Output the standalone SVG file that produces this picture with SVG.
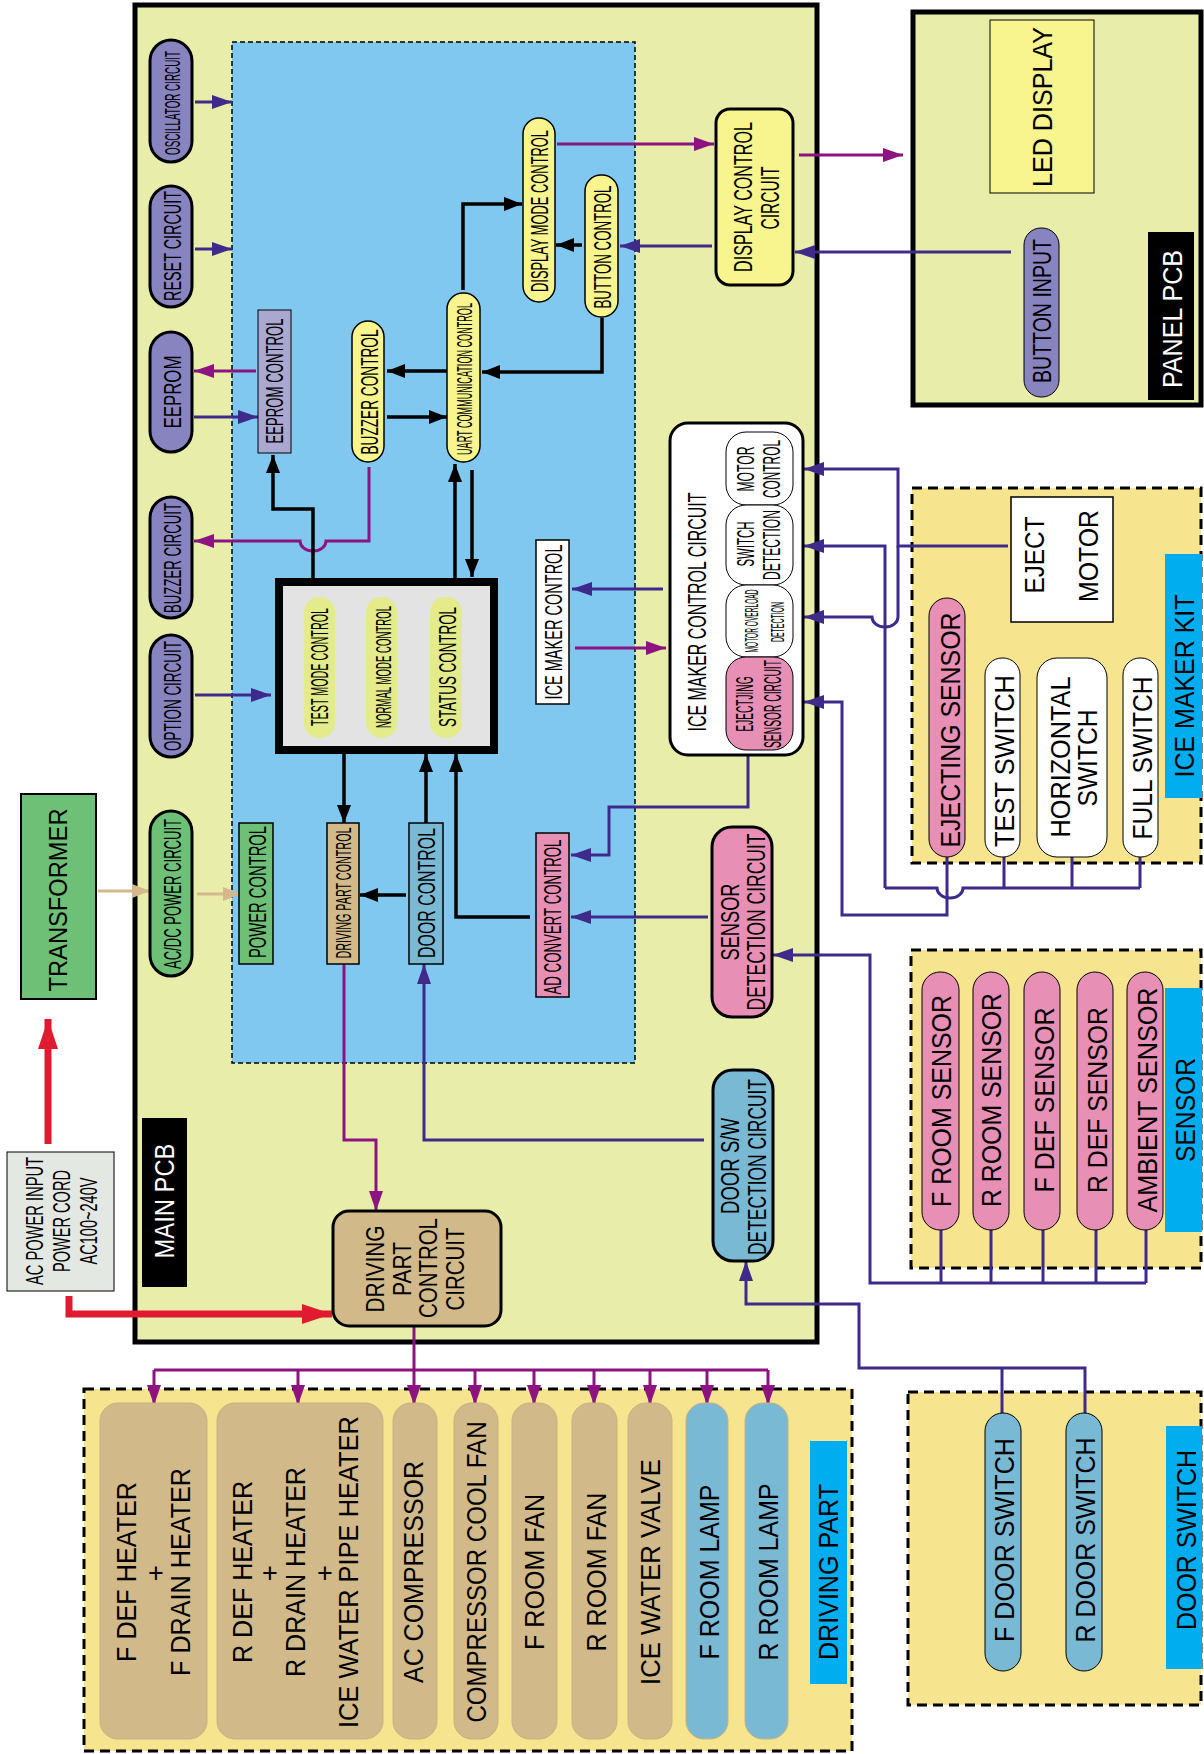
<svg xmlns="http://www.w3.org/2000/svg" width="1204" height="1754" viewBox="0 0 1204 1754">
<style>
text{font-family:"Liberation Sans",Arial,sans-serif;text-anchor:middle;fill:#000}
.w{fill:#fff}
.lb{fill:none;stroke:#3f2a8c;stroke-width:3}
.lm{fill:none;stroke:#8c1380;stroke-width:3}
.lk{fill:none;stroke:#000;stroke-width:3.5}
.lt{fill:none;stroke:#d4b98c;stroke-width:3}
.lr{fill:none;stroke:#e11b2f;stroke-width:7}
.pl{fill:#8884bf;stroke:#000;stroke-width:3}
.yp{fill:#f8f48e;stroke:#000;stroke-width:1.5}
.dash{fill:#f6e48f;stroke:#000;stroke-width:3;stroke-dasharray:10 6}
.cy{fill:#00aeef}
.pk{fill:#e78fb5;stroke:#000;stroke-width:1}
.bl{fill:#7ab9d4;stroke:#000;stroke-width:1}
.wh{fill:#fff;stroke:#000;stroke-width:1}
.dr{fill:#d1b98a;stroke:#c9b07f;stroke-width:1}
.dl{fill:#7ab9d4;stroke:#c9b07f;stroke-width:1}
</style>
<defs>
<marker id="ab" markerUnits="userSpaceOnUse" markerWidth="20" markerHeight="14" refX="20" refY="7" orient="auto"><path d="M0,0 L20,7 L0,14 z" fill="#3f2a8c"/></marker>
<marker id="am" markerUnits="userSpaceOnUse" markerWidth="20" markerHeight="14" refX="20" refY="7" orient="auto"><path d="M0,0 L20,7 L0,14 z" fill="#8c1380"/></marker>
<marker id="ak" markerUnits="userSpaceOnUse" markerWidth="18" markerHeight="14" refX="18" refY="7" orient="auto"><path d="M0,0 L18,7 L0,14 z" fill="#000"/></marker>
<marker id="at" markerUnits="userSpaceOnUse" markerWidth="18" markerHeight="14" refX="18" refY="7" orient="auto"><path d="M0,0 L18,7 L0,14 z" fill="#d4b98c"/></marker>
<marker id="ar" markerUnits="userSpaceOnUse" markerWidth="30" markerHeight="20" refX="30" refY="10" orient="auto"><path d="M0,0 L30,10 L0,20 z" fill="#e11b2f"/></marker>
</defs>

<!-- containers -->
<g id="main-pcb">
<rect x="135" y="5" width="682" height="1337" fill="#e8eea9" stroke="#000" stroke-width="5"/>
<rect x="232" y="42" width="403" height="1021" fill="#80c8f0" stroke="#000" stroke-width="1.5" stroke-dasharray="5 3"/>
<rect x="142" y="1118" width="45" height="169" fill="#000"/>
<text class="w" transform="translate(164,1201) rotate(-90)" dy=".36em" font-size="27" textLength="115" lengthAdjust="spacingAndGlyphs">MAIN PCB</text>
</g>
<g id="panel-pcb">
<rect x="913" y="12" width="288" height="393" fill="#e8eea9" stroke="#000" stroke-width="5"/>
<rect x="1148" y="232" width="46" height="168" fill="#000"/>
<text class="w" transform="translate(1172,319) rotate(-90)" dy=".36em" font-size="27" textLength="138" lengthAdjust="spacingAndGlyphs">PANEL PCB</text>
</g>
<g id="ice-maker-kit">
<rect class="dash" x="912" y="488" width="289" height="375"/>
<rect class="cy" x="1165" y="554" width="37" height="244"/>
<text transform="translate(1184,686) rotate(-90)" dy=".36em" font-size="27" textLength="183" lengthAdjust="spacingAndGlyphs">ICE MAKER KIT</text>
</g>
<g id="sensor-group">
<rect class="dash" x="911" y="950" width="290" height="318"/>
<rect class="cy" x="1165" y="988" width="37" height="244"/>
<text transform="translate(1185,1110) rotate(-90)" dy=".36em" font-size="27" textLength="104" lengthAdjust="spacingAndGlyphs">SENSOR</text>
</g>
<g id="door-switch-group">
<rect class="dash" x="908" y="1392" width="293" height="313"/>
<rect class="cy" x="1166" y="1426" width="36" height="243"/>
<text transform="translate(1186,1540) rotate(-90)" dy=".36em" font-size="27" textLength="180" lengthAdjust="spacingAndGlyphs">DOOR SWITCH</text>
</g>
<g id="driving-part-group">
<rect class="dash" x="84" y="1389" width="768" height="362"/>
<rect class="cy" x="810" y="1441" width="37" height="243"/>
<text transform="translate(828,1572) rotate(-90)" dy=".36em" font-size="27" textLength="176" lengthAdjust="spacingAndGlyphs">DRIVING PART</text>
</g>

<!-- connectors -->
<g id="connectors">
<path class="lb" d="M195,102 H232" marker-end="url(#ab)"/>
<path class="lb" d="M195,249 H232" marker-end="url(#ab)"/>
<path class="lm" d="M256,371 H194" marker-end="url(#am)"/>
<path class="lb" d="M194,417 H258" marker-end="url(#ab)"/>
<path class="lb" d="M195,695 H271" marker-end="url(#ab)"/>
<path class="lm" d="M369,467 V541 H326 A13,10 0 0 1 300,541 H194" marker-end="url(#am)"/>
<path class="lk" d="M313,578 V509 H273 V455" marker-end="url(#ak)"/>
<path class="lk" d="M447,371 H387" marker-end="url(#ak)"/>
<path class="lk" d="M387,417 H447" marker-end="url(#ak)"/>
<path class="lk" d="M455,578 V464" marker-end="url(#ak)"/>
<path class="lk" d="M472,470 V577" marker-end="url(#ak)"/>
<path class="lk" d="M463,290 V204 H522" marker-end="url(#ak)"/>
<path class="lk" d="M602,318 V372 H482" marker-end="url(#ak)"/>
<path class="lk" d="M582,245 H556" marker-end="url(#ak)"/>
<path class="lm" d="M557,144 H714" marker-end="url(#am)"/>
<path class="lb" d="M712,246 H620" marker-end="url(#ab)"/>
<path class="lm" d="M799,155 H903" marker-end="url(#am)"/>
<path class="lb" d="M1011,252 H795" marker-end="url(#ab)"/>
<path class="lk" d="M344,754 V823" marker-end="url(#ak)"/>
<path class="lk" d="M426,823 V754" marker-end="url(#ak)"/>
<path class="lk" d="M530,917 H456 V754" marker-end="url(#ak)"/>
<path class="lk" d="M406,895 H360" marker-end="url(#ak)"/>
<path class="lt" d="M98,891 H150" marker-end="url(#at)"/>
<path class="lt" d="M197,894 H241" marker-end="url(#at)"/>
<path class="lr" d="M48,1144 V1019" marker-end="url(#ar)"/>
<path class="lr" d="M69,1296 V1314 H332" marker-end="url(#ar)"/>
<path class="lb" d="M663,589 H572" marker-end="url(#ab)"/>
<path class="lm" d="M575,648 H666" marker-end="url(#am)"/>
<path class="lb" d="M748,750 V807 H609 V855 H571" marker-end="url(#ab)"/>
<path class="lb" d="M708,917 H571" marker-end="url(#ab)"/>
<path class="lm" d="M344,964 V1140 H376 V1211" marker-end="url(#am)"/>
<path class="lb" d="M704,1140 H424 V964" marker-end="url(#ab)"/>
<path class="lb" d="M1008,546 H898 V469 H804" marker-end="url(#ab)"/>
<path class="lb" d="M898,546 V617 A13,10 0 0 1 872,617 H804" marker-end="url(#ab)"/>
<path class="lb" d="M885,888 V546 H804" marker-end="url(#ab)"/>
<path class="lb" d="M947,857 V915 H842 V702 H804" marker-end="url(#ab)"/>
<path class="lb" d="M885,888 H937 A13,10 0 0 0 963,888 H1140 M1004,857 V888 M1072,857 V888 M1140,857 V888"/>
<path class="lb" d="M941,1230 V1283 M991,1230 V1283 M1043,1230 V1283 M1096,1230 V1283 M1146,1230 V1283"/>
<path class="lb" d="M1146,1283 H870 V955 H773" marker-end="url(#ab)"/>
<path class="lb" d="M1085,1413 V1368 H859 V1304 H746 V1261" marker-end="url(#ab)"/>
<path class="lb" d="M1002,1368 V1413"/>
<path class="lm" d="M414,1326 V1405" marker-end="url(#am)"/>
<path class="lm" d="M154,1370 H768"/>
<path class="lm" d="M154,1370 V1405" marker-end="url(#am)"/>
<path class="lm" d="M298,1370 V1405" marker-end="url(#am)"/>
<path class="lm" d="M475,1370 V1405" marker-end="url(#am)"/>
<path class="lm" d="M534,1370 V1405" marker-end="url(#am)"/>
<path class="lm" d="M594,1370 V1405" marker-end="url(#am)"/>
<path class="lm" d="M650,1370 V1405" marker-end="url(#am)"/>
<path class="lm" d="M707,1370 V1405" marker-end="url(#am)"/>
<path class="lm" d="M768,1370 V1405" marker-end="url(#am)"/>
</g>

<!-- left column nodes -->
<g id="oscillator"><rect class="pl" x="150" y="40" width="42" height="122" rx="21"/>
<text transform="translate(172,103) rotate(-90)" dy=".36em" font-size="22" textLength="104" lengthAdjust="spacingAndGlyphs">OSCILLATOR CIRCUIT</text></g>
<g id="reset"><rect class="pl" x="150" y="186" width="42" height="121" rx="21"/>
<text transform="translate(172,246) rotate(-90)" dy=".36em" font-size="24" textLength="110" lengthAdjust="spacingAndGlyphs">RESET CIRCUIT</text></g>
<g id="eeprom"><rect class="pl" x="150" y="332" width="42" height="120" rx="21"/>
<text transform="translate(172,392) rotate(-90)" dy=".36em" font-size="24" textLength="73" lengthAdjust="spacingAndGlyphs">EEPROM</text></g>
<g id="buzzer-circuit"><rect class="pl" x="150" y="497" width="42" height="121" rx="21"/>
<text transform="translate(172,558) rotate(-90)" dy=".36em" font-size="24" textLength="110" lengthAdjust="spacingAndGlyphs">BUZZER CIRCUIT</text></g>
<g id="option-circuit"><rect class="pl" x="150" y="635" width="42" height="122" rx="21"/>
<text transform="translate(172,696) rotate(-90)" dy=".36em" font-size="24" textLength="110" lengthAdjust="spacingAndGlyphs">OPTION CIRCUIT</text></g>
<g id="acdc"><rect x="150" y="811" width="42" height="165" rx="21" fill="#6fc077" stroke="#000" stroke-width="3"/>
<text transform="translate(172,894) rotate(-90)" dy=".36em" font-size="24" textLength="150" lengthAdjust="spacingAndGlyphs">AC/DC POWER CIRCUIT</text></g>

<!-- MCU area nodes -->
<g id="eeprom-control"><rect x="258" y="310" width="33" height="143" fill="#aaa8d0" stroke="#000" stroke-width="1"/>
<text transform="translate(274,381) rotate(-90)" dy=".36em" font-size="24" textLength="125" lengthAdjust="spacingAndGlyphs">EEPROM CONTROL</text></g>
<g id="buzzer-control"><rect class="yp" x="352" y="321" width="32" height="141" rx="16"/>
<text transform="translate(369,392) rotate(-90)" dy=".36em" font-size="24" textLength="125" lengthAdjust="spacingAndGlyphs">BUZZER CONTROL</text></g>
<g id="uart"><rect class="yp" x="447" y="293" width="33" height="169" rx="16"/>
<text transform="translate(464,379) rotate(-90)" dy=".36em" font-size="22" textLength="152" lengthAdjust="spacingAndGlyphs">UART COMMUNICATION CONTROL</text></g>
<g id="display-mode"><rect class="yp" x="523" y="118" width="32" height="184" rx="16"/>
<text transform="translate(540,211) rotate(-90)" dy=".36em" font-size="23" textLength="162" lengthAdjust="spacingAndGlyphs">DISPLAY MODE CONTROL</text></g>
<g id="button-control"><rect class="yp" x="585" y="175" width="33" height="142" rx="16"/>
<text transform="translate(602,247) rotate(-90)" dy=".36em" font-size="24" textLength="123" lengthAdjust="spacingAndGlyphs">BUTTON CONTROL</text></g>
<g id="main-control">
<rect x="279" y="582" width="215" height="168" fill="#e3e3e3" stroke="#000" stroke-width="8"/>
<rect x="304" y="597" width="31" height="141" rx="15" fill="#e3eb8a"/>
<rect x="366" y="597" width="31" height="141" rx="15" fill="#e3eb8a"/>
<rect x="430" y="597" width="32" height="141" rx="15" fill="#e3eb8a"/>
<text transform="translate(320,667) rotate(-90)" dy=".36em" font-size="23" textLength="118" lengthAdjust="spacingAndGlyphs">TEST MODE CONTROL</text>
<text transform="translate(383,667) rotate(-90)" dy=".36em" font-size="22" textLength="122" lengthAdjust="spacingAndGlyphs">NORMAL MODE CONTROL</text>
<text transform="translate(447,667) rotate(-90)" dy=".36em" font-size="24" textLength="120" lengthAdjust="spacingAndGlyphs">STATUS CONTROL</text>
</g>
<g id="ice-maker-control"><rect x="536" y="540" width="33" height="164" fill="#fff" stroke="#000" stroke-width="1.5"/>
<text transform="translate(553,622) rotate(-90)" dy=".36em" font-size="24" textLength="155" lengthAdjust="spacingAndGlyphs">ICE MAKER CONTROL</text></g>
<g id="ad-convert"><rect x="536" y="833" width="33" height="164" fill="#e78fb5" stroke="#000" stroke-width="1.5"/>
<text transform="translate(552,917) rotate(-90)" dy=".36em" font-size="24" textLength="155" lengthAdjust="spacingAndGlyphs">AD CONVERT CONTROL</text></g>
<g id="power-control"><rect x="239" y="823" width="34" height="141" fill="#6fc077" stroke="#000" stroke-width="1.5"/>
<text transform="translate(257,892) rotate(-90)" dy=".36em" font-size="24" textLength="132" lengthAdjust="spacingAndGlyphs">POWER CONTROL</text></g>
<g id="driving-part-control"><rect x="327" y="823" width="32" height="141" fill="#d1b98a" stroke="#000" stroke-width="1.5"/>
<text transform="translate(343,893) rotate(-90)" dy=".36em" font-size="22" textLength="131" lengthAdjust="spacingAndGlyphs">DRIVING PART CONTROL</text></g>
<g id="door-control"><rect x="409" y="823" width="34" height="141" fill="#7ab9d4" stroke="#000" stroke-width="1.5"/>
<text transform="translate(426,893) rotate(-90)" dy=".36em" font-size="24" textLength="130" lengthAdjust="spacingAndGlyphs">DOOR CONTROL</text></g>

<!-- main PCB right-side circuits -->
<g id="display-control-circuit"><rect x="716" y="109" width="77" height="176" rx="14" fill="#f8f48e" stroke="#000" stroke-width="3"/>
<text transform="translate(743,197) rotate(-90)" dy=".36em" font-size="25" textLength="150" lengthAdjust="spacingAndGlyphs">DISPLAY CONTROL</text>
<text transform="translate(770,198) rotate(-90)" dy=".36em" font-size="25" textLength="63" lengthAdjust="spacingAndGlyphs">CIRCUIT</text></g>
<g id="ice-maker-control-circuit">
<rect x="670" y="423" width="133" height="332" rx="18" fill="#fff" stroke="#000" stroke-width="3"/>
<text transform="translate(697,612) rotate(-90)" dy=".36em" font-size="25" textLength="239" lengthAdjust="spacingAndGlyphs">ICE MAKER CONTROL CIRCUIT</text>
<rect class="wh" x="726" y="432" width="67" height="73" rx="20"/>
<rect class="wh" x="726" y="505" width="67" height="80" rx="20"/>
<rect class="wh" x="726" y="585" width="67" height="72" rx="20"/>
<rect class="pk" x="726" y="657" width="67" height="93" rx="20"/>
<text transform="translate(746,469) rotate(-90)" dy=".36em" font-size="23" textLength="45" lengthAdjust="spacingAndGlyphs">MOTOR</text>
<text transform="translate(772,469) rotate(-90)" dy=".36em" font-size="23" textLength="58" lengthAdjust="spacingAndGlyphs">CONTROL</text>
<text transform="translate(746,544) rotate(-90)" dy=".36em" font-size="23" textLength="45" lengthAdjust="spacingAndGlyphs">SWITCH</text>
<text transform="translate(772,545) rotate(-90)" dy=".36em" font-size="23" textLength="70" lengthAdjust="spacingAndGlyphs">DETECTION</text>
<text transform="translate(751,621) rotate(-90)" dy=".36em" font-size="19" textLength="63" lengthAdjust="spacingAndGlyphs">MOTOR OVERLOAD</text>
<text transform="translate(777,622) rotate(-90)" dy=".36em" font-size="19" textLength="40" lengthAdjust="spacingAndGlyphs">DETECTION</text>
<text transform="translate(745,704) rotate(-90)" dy=".36em" font-size="23" textLength="55" lengthAdjust="spacingAndGlyphs">EJECTJING</text>
<text transform="translate(773,704) rotate(-90)" dy=".36em" font-size="23" textLength="88" lengthAdjust="spacingAndGlyphs">SENSOR CIRCUIT</text>
</g>
<g id="sensor-detection-circuit"><rect x="712" y="827" width="60" height="190" rx="20" fill="#e78fb5" stroke="#000" stroke-width="3"/>
<text transform="translate(730,922) rotate(-90)" dy=".36em" font-size="25" textLength="77" lengthAdjust="spacingAndGlyphs">SENSOR</text>
<text transform="translate(756,922) rotate(-90)" dy=".36em" font-size="25" textLength="177" lengthAdjust="spacingAndGlyphs">DETECTION CIRCUIT</text></g>
<g id="door-sw-detection-circuit"><rect x="713" y="1070" width="60" height="191" rx="20" fill="#7ab9d4" stroke="#000" stroke-width="3"/>
<text transform="translate(730,1166) rotate(-90)" dy=".36em" font-size="25" textLength="96" lengthAdjust="spacingAndGlyphs">DOOR S/W</text>
<text transform="translate(757,1167) rotate(-90)" dy=".36em" font-size="25" textLength="176" lengthAdjust="spacingAndGlyphs">DETECTION CIRCUIT</text></g>
<g id="driving-part-control-circuit"><rect x="333" y="1211" width="168" height="115" rx="16" fill="#d1b98a" stroke="#000" stroke-width="3"/>
<text transform="translate(375,1269) rotate(-90)" dy=".36em" font-size="26" textLength="87" lengthAdjust="spacingAndGlyphs">DRIVING</text>
<text transform="translate(402,1269) rotate(-90)" dy=".36em" font-size="26" textLength="54" lengthAdjust="spacingAndGlyphs">PART</text>
<text transform="translate(428,1268) rotate(-90)" dy=".36em" font-size="26" textLength="100" lengthAdjust="spacingAndGlyphs">CONTROL</text>
<text transform="translate(455,1269) rotate(-90)" dy=".36em" font-size="26" textLength="83" lengthAdjust="spacingAndGlyphs">CIRCUIT</text></g>

<!-- outside left -->
<g id="transformer"><rect x="21" y="794" width="75" height="205" fill="#6fc077" stroke="#000" stroke-width="2"/>
<text transform="translate(58,900) rotate(-90)" dy=".36em" font-size="26" textLength="183" lengthAdjust="spacingAndGlyphs">TRANSFORMER</text></g>
<g id="ac-power-input"><rect x="7" y="1152" width="107" height="139" fill="#e3e8e3" stroke="#000" stroke-width="1"/>
<text transform="translate(34,1221) rotate(-90)" dy=".36em" font-size="24" textLength="128" lengthAdjust="spacingAndGlyphs">AC POWER INPUT</text>
<text transform="translate(61,1221) rotate(-90)" dy=".36em" font-size="24" textLength="102" lengthAdjust="spacingAndGlyphs">POWER CORD</text>
<text transform="translate(88,1221) rotate(-90)" dy=".36em" font-size="24" textLength="87" lengthAdjust="spacingAndGlyphs">AC100~240V</text></g>

<!-- panel nodes -->
<g id="led-display"><rect x="990" y="20" width="104" height="173" fill="#f8f48e" stroke="#000" stroke-width="1"/>
<text transform="translate(1042,107) rotate(-90)" dy=".36em" font-size="27" textLength="160" lengthAdjust="spacingAndGlyphs">LED DISPLAY</text></g>
<g id="button-input"><rect x="1024" y="228" width="35" height="169" rx="17" fill="#8884bf" stroke="#000" stroke-width="1"/>
<text transform="translate(1042,311) rotate(-90)" dy=".36em" font-size="25" textLength="144" lengthAdjust="spacingAndGlyphs">BUTTON INPUT</text></g>

<!-- ice maker kit nodes -->
<g id="eject-motor"><rect x="1011" y="497" width="102" height="125" fill="#fff" stroke="#000" stroke-width="1.5"/>
<text transform="translate(1034,555) rotate(-90)" dy=".36em" font-size="27" textLength="77" lengthAdjust="spacingAndGlyphs">EJECT</text>
<text transform="translate(1088,556) rotate(-90)" dy=".36em" font-size="27" textLength="92" lengthAdjust="spacingAndGlyphs">MOTOR</text></g>
<g id="ejecting-sensor"><rect class="pk" x="929" y="598" width="36" height="259" rx="18"/>
<text transform="translate(950,730) rotate(-90)" dy=".36em" font-size="27" textLength="235" lengthAdjust="spacingAndGlyphs">EJECTING SENSOR</text></g>
<g id="test-switch"><rect class="wh" x="985" y="658" width="35" height="199" rx="17"/>
<text transform="translate(1004,761) rotate(-90)" dy=".36em" font-size="27" textLength="172" lengthAdjust="spacingAndGlyphs">TEST SWITCH</text></g>
<g id="horizontal-switch"><rect class="wh" x="1037" y="658" width="70" height="199" rx="20"/>
<text transform="translate(1060,757) rotate(-90)" dy=".36em" font-size="27" textLength="161" lengthAdjust="spacingAndGlyphs">HORIZONTAL</text>
<text transform="translate(1087,758) rotate(-90)" dy=".36em" font-size="27" textLength="97" lengthAdjust="spacingAndGlyphs">SWITCH</text></g>
<g id="full-switch"><rect class="wh" x="1123" y="658" width="35" height="199" rx="17"/>
<text transform="translate(1142,758) rotate(-90)" dy=".36em" font-size="27" textLength="163" lengthAdjust="spacingAndGlyphs">FULL SWITCH</text></g>

<!-- sensors -->
<g id="f-room-sensor"><rect class="pk" x="922" y="972" width="37" height="258" rx="18"/>
<text transform="translate(941,1101) rotate(-90)" dy=".36em" font-size="27" textLength="212" lengthAdjust="spacingAndGlyphs">F ROOM SENSOR</text></g>
<g id="r-room-sensor"><rect class="pk" x="973" y="972" width="36" height="258" rx="18"/>
<text transform="translate(991,1100) rotate(-90)" dy=".36em" font-size="27" textLength="214" lengthAdjust="spacingAndGlyphs">R ROOM SENSOR</text></g>
<g id="f-def-sensor"><rect class="pk" x="1024" y="972" width="36" height="258" rx="18"/>
<text transform="translate(1044,1100) rotate(-90)" dy=".36em" font-size="27" textLength="185" lengthAdjust="spacingAndGlyphs">F DEF SENSOR</text></g>
<g id="r-def-sensor"><rect class="pk" x="1077" y="972" width="36" height="258" rx="18"/>
<text transform="translate(1097,1100) rotate(-90)" dy=".36em" font-size="27" textLength="186" lengthAdjust="spacingAndGlyphs">R DEF SENSOR</text></g>
<g id="ambient-sensor"><rect class="pk" x="1127" y="972" width="36" height="258" rx="18"/>
<text transform="translate(1147,1100) rotate(-90)" dy=".36em" font-size="27" textLength="225" lengthAdjust="spacingAndGlyphs">AMBIENT SENSOR</text></g>

<!-- door switches -->
<g id="f-door-switch"><rect class="bl" x="985" y="1413" width="36" height="258" rx="18"/>
<text transform="translate(1004,1540) rotate(-90)" dy=".36em" font-size="27" textLength="204" lengthAdjust="spacingAndGlyphs">F DOOR SWITCH</text></g>
<g id="r-door-switch"><rect class="bl" x="1066" y="1413" width="36" height="258" rx="18"/>
<text transform="translate(1085,1540) rotate(-90)" dy=".36em" font-size="27" textLength="205" lengthAdjust="spacingAndGlyphs">R DOOR SWITCH</text></g>

<!-- driving parts -->
<g id="f-heaters"><rect class="dr" x="100" y="1403" width="107" height="336" rx="18"/>
<text transform="translate(126,1572) rotate(-90)" dy=".36em" font-size="27" textLength="180" lengthAdjust="spacingAndGlyphs">F DEF HEATER</text>
<text x="156" y="1572" dy=".36em" font-size="27">+</text>
<text transform="translate(180,1572) rotate(-90)" dy=".36em" font-size="27" textLength="208" lengthAdjust="spacingAndGlyphs">F DRAIN HEATER</text></g>
<g id="r-heaters"><rect class="dr" x="217" y="1403" width="166" height="336" rx="18"/>
<text transform="translate(242,1572) rotate(-90)" dy=".36em" font-size="27" textLength="182" lengthAdjust="spacingAndGlyphs">R DEF HEATER</text>
<text x="270" y="1572" dy=".36em" font-size="27">+</text>
<text transform="translate(295,1572) rotate(-90)" dy=".36em" font-size="27" textLength="210" lengthAdjust="spacingAndGlyphs">R DRAIN HEATER</text>
<text x="325" y="1572" dy=".36em" font-size="27">+</text>
<text transform="translate(348,1572) rotate(-90)" dy=".36em" font-size="27" textLength="312" lengthAdjust="spacingAndGlyphs">ICE WATER PIPE HEATER</text></g>
<g id="ac-compressor"><rect class="dr" x="393" y="1403" width="44" height="336" rx="18"/>
<text transform="translate(413,1572) rotate(-90)" dy=".36em" font-size="27" textLength="222" lengthAdjust="spacingAndGlyphs">AC COMPRESSOR</text></g>
<g id="compressor-cool-fan"><rect class="dr" x="454" y="1403" width="44" height="336" rx="18"/>
<text transform="translate(476,1572) rotate(-90)" dy=".36em" font-size="27" textLength="301" lengthAdjust="spacingAndGlyphs">COMPRESSOR COOL FAN</text></g>
<g id="f-room-fan"><rect class="dr" x="512" y="1403" width="45" height="336" rx="18"/>
<text transform="translate(534,1572) rotate(-90)" dy=".36em" font-size="27" textLength="156" lengthAdjust="spacingAndGlyphs">F ROOM FAN</text></g>
<g id="r-room-fan"><rect class="dr" x="572" y="1403" width="45" height="336" rx="18"/>
<text transform="translate(596,1572) rotate(-90)" dy=".36em" font-size="27" textLength="159" lengthAdjust="spacingAndGlyphs">R ROOM FAN</text></g>
<g id="ice-water-valve"><rect class="dr" x="628" y="1403" width="44" height="336" rx="18"/>
<text transform="translate(650,1572) rotate(-90)" dy=".36em" font-size="27" textLength="226" lengthAdjust="spacingAndGlyphs">ICE WATER VALVE</text></g>
<g id="f-room-lamp"><rect class="dl" x="686" y="1403" width="42" height="336" rx="18"/>
<text transform="translate(709,1572) rotate(-90)" dy=".36em" font-size="27" textLength="175" lengthAdjust="spacingAndGlyphs">F ROOM LAMP</text></g>
<g id="r-room-lamp"><rect class="dl" x="745" y="1403" width="43" height="336" rx="18"/>
<text transform="translate(768,1572) rotate(-90)" dy=".36em" font-size="27" textLength="177" lengthAdjust="spacingAndGlyphs">R ROOM LAMP</text></g>
</svg>
